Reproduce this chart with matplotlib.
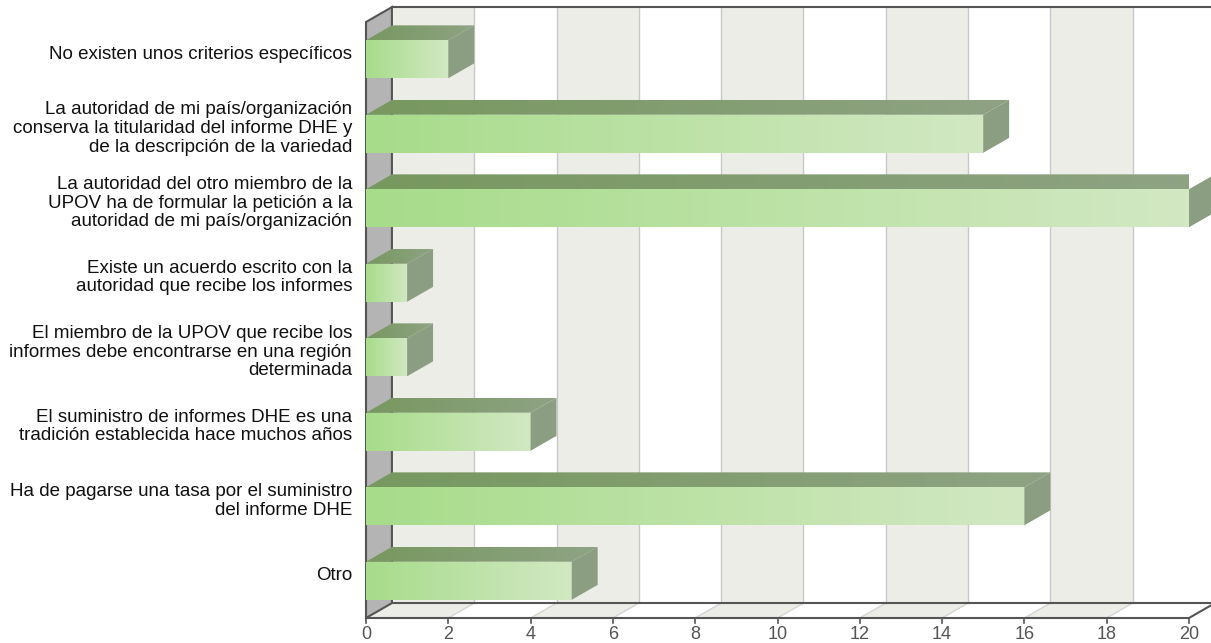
import matplotlib.pyplot as plt
import numpy as np
from matplotlib.patches import Polygon
from matplotlib.colors import LinearSegmentedColormap

plt.rcParams['font.family'] = ['Liberation Sans', 'DejaVu Sans']

categories = [
    "No existen unos criterios específicos",
    "La autoridad de mi país/organización\nconserva la titularidad del informe DHE y\nde la descripción de la variedad",
    "La autoridad del otro miembro de la\nUPOV ha de formular la petición a la\nautoridad de mi país/organización",
    "Existe un acuerdo escrito con la\nautoridad que recibe los informes",
    "El miembro de la UPOV que recibe los\ninformes debe encontrarse en una región\ndeterminada",
    "El suministro de informes DHE es una\ntradición establecida hace muchos años",
    "Ha de pagarse una tasa por el suministro\ndel informe DHE",
    "Otro",
]
values = [2, 15, 20, 1, 1, 4, 16, 5]
xticks = [0, 2, 4, 6, 8, 10, 12, 14, 16, 18, 20]

W, H = 1211, 643
fig = plt.figure(figsize=(W / 100, H / 100), dpi=100)
ax = fig.add_axes([366 / W, 25 / H, (1189 - 366) / W, (618 - 22) / H])
n = len(categories)
xmax = 20
ax.set_xlim(0, xmax)
ax.set_ylim(n - 0.5, -0.5)
ax.axis('off')

dx, dy = 0.63, 0.2      # depth offset (value units, row units)
h = 0.51                # bar front height
yb, yt = n - 0.5, -0.5  # floor / top of the plot area
dark = '#555555'

# back wall + floor stripes
for k in range(0, xmax, 2):
    col = '#EDEDE8' if (k // 2) % 2 == 0 else 'white'
    ax.add_patch(Polygon([(k + dx, yb - dy), (k + 2 + dx, yb - dy),
                          (k + 2 + dx, yt - dy), (k + dx, yt - dy)],
                         closed=True, fc=col, ec='none', zorder=1, clip_on=False))
    ax.add_patch(Polygon([(k, yb), (k + 2, yb), (k + 2 + dx, yb - dy), (k + dx, yb - dy)],
                         closed=True, fc=col, ec='none', zorder=1, clip_on=False))
for k in xticks[1:-1]:
    ax.plot([k + dx, k + dx], [yb - dy, yt - dy], color='#C8C8C8', lw=1, zorder=2, clip_on=False)
    ax.plot([k, k + dx], [yb, yb - dy], color='#D4D4D4', lw=1, zorder=2, clip_on=False)

# left wall
ax.add_patch(Polygon([(0, yb), (dx, yb - dy), (dx, yt - dy), (0, yt)],
                     closed=True, fc='#B4B4B4', ec=dark, lw=1.5, zorder=3, clip_on=False))
# frame lines
ax.plot([dx, xmax + dx], [yt - dy, yt - dy], color=dark, lw=1.5, zorder=3, clip_on=False)
ax.plot([dx, xmax + dx], [yb - dy, yb - dy], color=dark, lw=1.5, zorder=3, clip_on=False)
ax.plot([0, xmax], [yb, yb], color=dark, lw=1.5, zorder=3, clip_on=False)
ax.plot([xmax, xmax + dx], [yb, yb - dy], color=dark, lw=1.5, zorder=3, clip_on=False)

# ticks and labels
for k in xticks:
    ax.plot([k, k], [yb, yb + 0.07], color=dark, lw=1.2, zorder=3, clip_on=False)
    ax.text(k, yb + 0.282, str(k), ha='center', va='baseline', fontsize=13,
            color='#555555', clip_on=False)

front_cmap = LinearSegmentedColormap.from_list('front', ['#A7DC8A', '#D2E8C3'])
top_cmap = LinearSegmentedColormap.from_list('top', ['#77985F', '#8FA384'])
grad = np.linspace(0, 1, 256).reshape(1, -1)

for i, (lab, v) in enumerate(zip(categories, values)):
    y0, y1 = i - h / 2, i + h / 2
    # front face
    ax.imshow(grad, cmap=front_cmap, extent=(0, v, y1, y0), aspect='auto',
              interpolation='bilinear', zorder=5)
    # top face
    top = Polygon([(0, y0), (v, y0), (v + dx, y0 - dy), (dx, y0 - dy)],
                  closed=True, fc='none', ec='none', zorder=5)
    ax.add_patch(top)
    im = ax.imshow(grad, cmap=top_cmap, extent=(0, v + dx, y0, y0 - dy), aspect='auto',
                   interpolation='bilinear', zorder=5)
    im.set_clip_path(top)
    # side face
    ax.add_patch(Polygon([(v, y0), (v + dx, y0 - dy), (v + dx, y1 - dy), (v, y1)],
                         closed=True, fc='#8B9E81', ec='none', zorder=5, clip_on=False))
    ax.text(-0.34, i - 0.07, lab, ha='right', va='center', multialignment='right',
            fontsize=13.5, color='#111111', linespacing=1.13, clip_on=False)

ax.set_xlim(0, xmax)
ax.set_ylim(n - 0.5, -0.5)
fig.savefig('out.png', dpi=100, facecolor='white')
